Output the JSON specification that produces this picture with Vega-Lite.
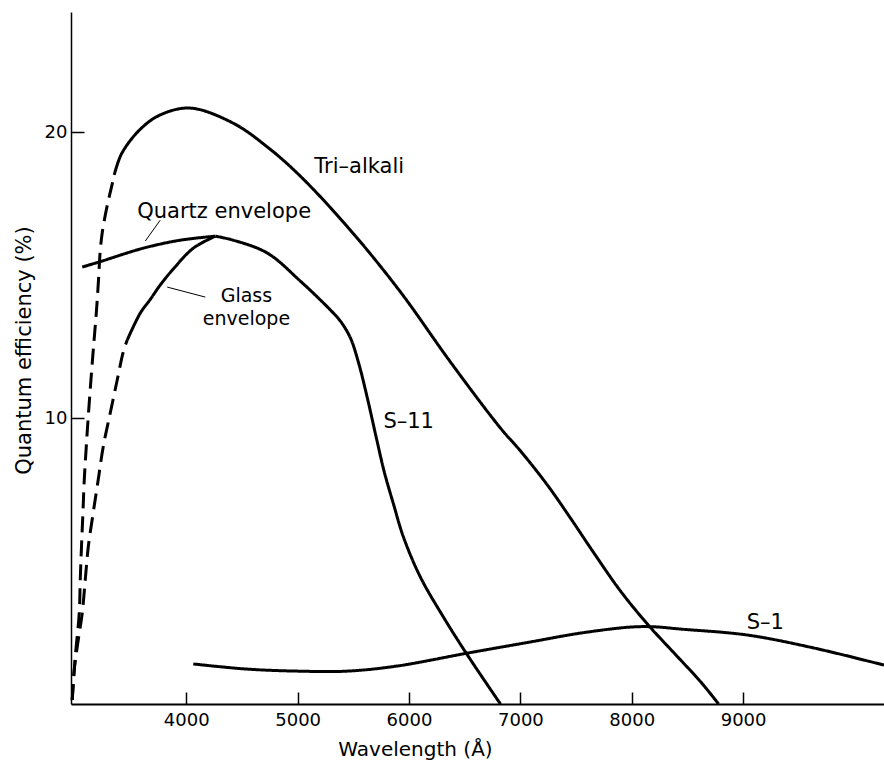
{
  "$schema": "https://vega.github.io/schema/vega-lite/v6.json",
  "width": 813,
  "height": 692,
  "autosize": {"type": "none"},
  "padding": {"left": 71, "top": 12, "right": 0, "bottom": 57},
  "background": "white",
  "config": {"view": {"stroke": null}, "font": "DejaVu Sans"},
  "datasets": {
    "curves": [
      {"series": "tri_d", "style": "dashed", "wl": 2976, "qe": 0.14},
      {"series": "tri_d", "style": "dashed", "wl": 3003, "qe": 1.64},
      {"series": "tri_d", "style": "dashed", "wl": 3039, "qe": 3.18},
      {"series": "tri_d", "style": "dashed", "wl": 3048, "qe": 4.34},
      {"series": "tri_d", "style": "dashed", "wl": 3059, "qe": 5.49},
      {"series": "tri_d", "style": "dashed", "wl": 3072, "qe": 6.68},
      {"series": "tri_d", "style": "dashed", "wl": 3084, "qe": 7.83},
      {"series": "tri_d", "style": "dashed", "wl": 3102, "qe": 8.99},
      {"series": "tri_d", "style": "dashed", "wl": 3122, "qe": 10.17},
      {"series": "tri_d", "style": "dashed", "wl": 3144, "qe": 11.33},
      {"series": "tri_d", "style": "dashed", "wl": 3167, "qe": 12.48},
      {"series": "tri_d", "style": "dashed", "wl": 3192, "qe": 13.67},
      {"series": "tri_d", "style": "dashed", "wl": 3212, "qe": 14.83},
      {"series": "tri_d", "style": "dashed", "wl": 3226, "qe": 15.77},
      {"series": "tri_d", "style": "dashed", "wl": 3245, "qe": 16.47},
      {"series": "tri_d", "style": "dashed", "wl": 3272, "qe": 17.08},
      {"series": "tri_d", "style": "dashed", "wl": 3302, "qe": 17.64},
      {"series": "tri_d", "style": "dashed", "wl": 3330, "qe": 18.1},
      {"series": "tri_d", "style": "dashed", "wl": 3353, "qe": 18.5},

      {"series": "tri_s", "style": "solid", "wl": 3353, "qe": 18.5},
      {"series": "tri_s", "style": "solid", "wl": 3420, "qe": 19.25},
      {"series": "tri_s", "style": "solid", "wl": 3587, "qe": 20.1},
      {"series": "tri_s", "style": "solid", "wl": 3766, "qe": 20.6},
      {"series": "tri_s", "style": "solid", "wl": 4036, "qe": 20.84},
      {"series": "tri_s", "style": "solid", "wl": 4422, "qe": 20.31},
      {"series": "tri_s", "style": "solid", "wl": 4728, "qe": 19.48},
      {"series": "tri_s", "style": "solid", "wl": 5024, "qe": 18.46},
      {"series": "tri_s", "style": "solid", "wl": 5474, "qe": 16.57},
      {"series": "tri_s", "style": "solid", "wl": 5923, "qe": 14.41},
      {"series": "tri_s", "style": "solid", "wl": 6372, "qe": 11.96},
      {"series": "tri_s", "style": "solid", "wl": 6821, "qe": 9.65},
      {"series": "tri_s", "style": "solid", "wl": 7001, "qe": 8.85},
      {"series": "tri_s", "style": "solid", "wl": 7244, "qe": 7.65},
      {"series": "tri_s", "style": "solid", "wl": 7450, "qe": 6.5},
      {"series": "tri_s", "style": "solid", "wl": 7657, "qe": 5.3},
      {"series": "tri_s", "style": "solid", "wl": 7899, "qe": 3.95},
      {"series": "tri_s", "style": "solid", "wl": 8151, "qe": 2.75},
      {"series": "tri_s", "style": "solid", "wl": 8400, "qe": 1.7},
      {"series": "tri_s", "style": "solid", "wl": 8618, "qe": 0.78},
      {"series": "tri_s", "style": "solid", "wl": 8780, "qe": 0},

      {"series": "glass_d", "style": "dashed", "wl": 2976, "qe": 0.14},
      {"series": "glass_d", "style": "dashed", "wl": 2994, "qe": 1.19},
      {"series": "glass_d", "style": "dashed", "wl": 3030, "qe": 2.24},
      {"series": "glass_d", "style": "dashed", "wl": 3066, "qe": 3.18},
      {"series": "glass_d", "style": "dashed", "wl": 3093, "qe": 4.34},
      {"series": "glass_d", "style": "dashed", "wl": 3120, "qe": 5.49},
      {"series": "glass_d", "style": "dashed", "wl": 3164, "qe": 6.68},
      {"series": "glass_d", "style": "dashed", "wl": 3209, "qe": 7.83},
      {"series": "glass_d", "style": "dashed", "wl": 3254, "qe": 8.99},
      {"series": "glass_d", "style": "dashed", "wl": 3317, "qe": 10.17},
      {"series": "glass_d", "style": "dashed", "wl": 3380, "qe": 11.33},
      {"series": "glass_d", "style": "dashed", "wl": 3434, "qe": 12.31},
      {"series": "glass_d", "style": "dashed", "wl": 3470, "qe": 12.73},

      {"series": "glass_s", "style": "solid", "wl": 3470, "qe": 12.73},
      {"series": "glass_s", "style": "solid", "wl": 3587, "qe": 13.67},
      {"series": "glass_s", "style": "solid", "wl": 3677, "qe": 14.15},
      {"series": "glass_s", "style": "solid", "wl": 3766, "qe": 14.65},
      {"series": "glass_s", "style": "solid", "wl": 3883, "qe": 15.21},
      {"series": "glass_s", "style": "solid", "wl": 4063, "qe": 15.94},
      {"series": "glass_s", "style": "solid", "wl": 4261, "qe": 16.36},

      {"series": "quartz", "style": "solid", "wl": 3066, "qe": 15.28},
      {"series": "quartz", "style": "solid", "wl": 3227, "qe": 15.47},
      {"series": "quartz", "style": "solid", "wl": 3614, "qe": 15.94},
      {"series": "quartz", "style": "solid", "wl": 3946, "qe": 16.22},
      {"series": "quartz", "style": "solid", "wl": 4261, "qe": 16.36},

      {"series": "s11", "style": "solid", "wl": 4261, "qe": 16.36},
      {"series": "s11", "style": "solid", "wl": 4422, "qe": 16.22},
      {"series": "s11", "style": "solid", "wl": 4728, "qe": 15.77},
      {"series": "s11", "style": "solid", "wl": 5024, "qe": 14.79},
      {"series": "s11", "style": "solid", "wl": 5294, "qe": 13.78},
      {"series": "s11", "style": "solid", "wl": 5384, "qe": 13.39},
      {"series": "s11", "style": "solid", "wl": 5474, "qe": 12.8},
      {"series": "s11", "style": "solid", "wl": 5545, "qe": 11.96},
      {"series": "s11", "style": "solid", "wl": 5626, "qe": 10.7},
      {"series": "s11", "style": "solid", "wl": 5707, "qe": 9.3},
      {"series": "s11", "style": "solid", "wl": 5779, "qe": 8.1},
      {"series": "s11", "style": "solid", "wl": 5860, "qe": 7.0},
      {"series": "s11", "style": "solid", "wl": 5950, "qe": 5.84},
      {"series": "s11", "style": "solid", "wl": 6102, "qe": 4.44},
      {"series": "s11", "style": "solid", "wl": 6309, "qe": 3.04},
      {"series": "s11", "style": "solid", "wl": 6525, "qe": 1.71},
      {"series": "s11", "style": "solid", "wl": 6821, "qe": 0},

      {"series": "s1", "style": "solid", "wl": 4063, "qe": 1.4},
      {"series": "s1", "style": "solid", "wl": 4548, "qe": 1.22},
      {"series": "s1", "style": "solid", "wl": 4997, "qe": 1.15},
      {"series": "s1", "style": "solid", "wl": 5447, "qe": 1.15},
      {"series": "s1", "style": "solid", "wl": 5896, "qe": 1.33},
      {"series": "s1", "style": "solid", "wl": 6525, "qe": 1.78},
      {"series": "s1", "style": "solid", "wl": 7091, "qe": 2.17},
      {"series": "s1", "style": "solid", "wl": 7540, "qe": 2.48},
      {"series": "s1", "style": "solid", "wl": 7989, "qe": 2.69},
      {"series": "s1", "style": "solid", "wl": 8196, "qe": 2.7},
      {"series": "s1", "style": "solid", "wl": 8439, "qe": 2.62},
      {"series": "s1", "style": "solid", "wl": 9041, "qe": 2.41},
      {"series": "s1", "style": "solid", "wl": 9634, "qe": 1.96},
      {"series": "s1", "style": "solid", "wl": 10265, "qe": 1.36}
    ],
    "labels": [
      {"label": "Tri–alkali", "wl": 5150, "qe": 18.57},
      {"label": "Quartz envelope", "wl": 3560, "qe": 16.99},
      {"label": "S–11", "wl": 5770, "qe": 9.65},
      {"label": "S–1", "wl": 9032, "qe": 2.62}
    ],
    "clabels": [
      {"label": "Glass\nenvelope", "wl": 4540, "qe": 14.06}
    ],
    "leaders": [
      {"wl": 3766, "qe": 16.92, "wl2": 3632, "qe2": 16.19},
      {"wl": 3829, "qe": 14.58, "wl2": 4171, "qe2": 14.23}
    ]
  },
  "layer": [
    {
      "data": {"name": "curves"},
      "mark": {"type": "line", "interpolate": "catmull-rom", "strokeWidth": 3, "color": "black", "strokeCap": "butt"},
      "encoding": {
        "x": {
          "field": "wl", "type": "quantitative",
          "scale": {"domain": [2965, 10265], "nice": false, "zero": false},
          "axis": {
            "values": [4000, 5000, 6000, 7000, 8000, 9000],
            "format": "d",
            "title": "Wavelength (Å)",
            "grid": false,
            "domainColor": "black", "domainWidth": 2,
            "tickColor": "black", "tickWidth": 1.5, "tickSize": -12,
            "labelPadding": 19,
            "labelFont": "DejaVu Sans", "labelFontSize": 18, "labelColor": "black",
            "labelFlush": false, "labelOverlap": false,
            "titleFont": "DejaVu Sans", "titleFontSize": 20, "titleFontWeight": "normal", "titleColor": "black",
            "titleX": 344, "titleY": 51, "titleAlign": "center", "titleBaseline": "alphabetic"
          }
        },
        "y": {
          "field": "qe", "type": "quantitative",
          "scale": {"domain": [0, 24.2], "nice": false, "zero": false},
          "axis": {
            "values": [10, 20],
            "title": "Quantum efficiency (%)",
            "grid": false,
            "domainColor": "black", "domainWidth": 1.5,
            "tickColor": "black", "tickWidth": 1.5, "tickSize": -13,
            "labelPadding": 17,
            "labelFont": "DejaVu Sans", "labelFontSize": 18, "labelColor": "black",
            "labelFlush": false, "labelOverlap": false,
            "titleFont": "DejaVu Sans", "titleFontSize": 21, "titleFontWeight": "normal", "titleColor": "black",
            "titleAngle": 270, "titleX": -47, "titleY": 338, "titleAlign": "center", "titleBaseline": "middle"
          }
        },
        "detail": {"field": "series"},
        "strokeDash": {
          "field": "style", "type": "nominal",
          "scale": {"domain": ["solid", "dashed"], "range": [[1, 0], [16, 8]]},
          "legend": null
        }
      }
    },
    {
      "data": {"name": "labels"},
      "mark": {"type": "text", "align": "left", "baseline": "alphabetic", "fontSize": 21, "font": "DejaVu Sans", "color": "black"},
      "encoding": {
        "x": {"field": "wl", "type": "quantitative", "scale": {"domain": [2965, 10265], "nice": false, "zero": false}},
        "y": {"field": "qe", "type": "quantitative", "scale": {"domain": [0, 24.2], "nice": false, "zero": false}},
        "text": {"field": "label"}
      }
    },
    {
      "data": {"name": "clabels"},
      "mark": {"type": "text", "align": "center", "baseline": "alphabetic", "fontSize": 19, "font": "DejaVu Sans", "color": "black", "lineBreak": "\n", "lineHeight": 23},
      "encoding": {
        "x": {"field": "wl", "type": "quantitative", "scale": {"domain": [2965, 10265], "nice": false, "zero": false}},
        "y": {"field": "qe", "type": "quantitative", "scale": {"domain": [0, 24.2], "nice": false, "zero": false}},
        "text": {"field": "label"}
      }
    },
    {
      "data": {"name": "leaders"},
      "mark": {"type": "rule", "strokeWidth": 1, "color": "black"},
      "encoding": {
        "x": {"field": "wl", "type": "quantitative", "scale": {"domain": [2965, 10265], "nice": false, "zero": false}},
        "y": {"field": "qe", "type": "quantitative", "scale": {"domain": [0, 24.2], "nice": false, "zero": false}},
        "x2": {"field": "wl2"},
        "y2": {"field": "qe2"}
      }
    }
  ]
}
